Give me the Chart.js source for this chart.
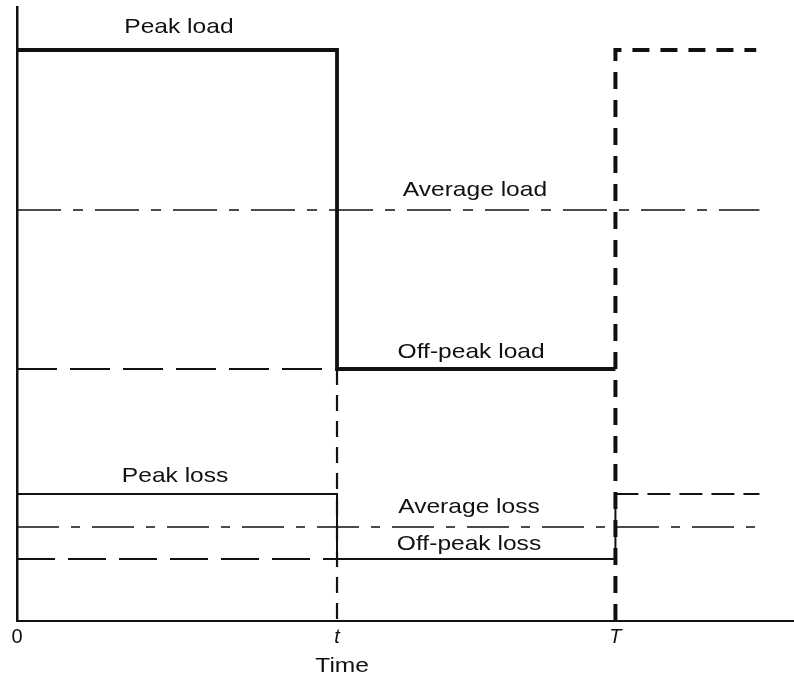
<!DOCTYPE html>
<html>
<head>
<meta charset="utf-8">
<script src="https://cdn.jsdelivr.net/npm/chart.js@4.4.1/dist/chart.umd.min.js"></script>
<style>
  html, body { margin: 0; padding: 0; background: #fff; }
  #wrap { position: relative; width: 794px; height: 678px; }
</style>
</head>
<body>
<div id="wrap"><canvas id="c"></canvas></div>
<script>
// time marks: 0, t (end of peak), T (end of cycle)
const T_PEAK = 1.0;
const T_CYCLE = 1.87;
const T_END = 2.31;
const X_MAX = 2.428;
const Y_MAX = 6.14;

// levels (arbitrary units)
const peakLoad = 5.71;
const avgLoad = 4.11;
const offPeakLoad = 2.52;
const peakLoss = 1.27;
const avgLoss = 0.94;
const offPeakLoss = 0.62;

const tickValues = [0, T_PEAK, T_CYCLE];
const tickLabels = ['0', 't', 'T'];
const tickItalic = [false, true, true];

// text annotations, anchored in data units
const labelText = ['Peak load', 'Average load', 'Off-peak load', 'Peak loss', 'Average loss', 'Off-peak loss', 'Time'];
const labelX = [0.506, 1.431, 1.419, 0.494, 1.4125, 1.4125, 1.016];
const labelY = [5.88, 4.25, 2.63, 1.39, 1.08, 0.71, -0.51];

const INK = '#111';
const FONT = '"Liberation Sans", Arial, sans-serif';

function seg(points, width, dash) {
  return {
    data: points.map(p => ({ x: p[0], y: p[1] })),
    showLine: true,
    borderColor: INK,
    borderWidth: width,
    borderDash: dash || [],
    pointRadius: 0,
    fill: false,
    tension: 0
  };
}

const datasets = [
  // guide line down from t
  seg([[T_PEAK, offPeakLoad], [T_PEAK, 0]], 2.2, [16, 10]),
  // next cycle (dashed thick)
  seg([[T_CYCLE, 0], [T_CYCLE, peakLoad], [T_END, peakLoad]], 4, [17, 11]),
  // average load
  seg([[0, avgLoad], [T_END + 0.01, avgLoad]], 1.6, [44, 12, 10, 12]),
  // off-peak load extension to the left
  seg([[0, offPeakLoad], [T_PEAK, offPeakLoad]], 2, [40, 13]),
  // load curve
  seg([[0, peakLoad], [T_PEAK, peakLoad], [T_PEAK, offPeakLoad], [T_CYCLE, offPeakLoad]], 3.8),
  // average loss
  seg([[0, avgLoss], [T_END + 0.01, avgLoss]], 1.6, [42, 12, 9, 12]),
  // off-peak loss extension
  seg([[0, offPeakLoss], [T_PEAK, offPeakLoss]], 2, [38, 13]),
  // loss next cycle
  seg([[T_CYCLE, peakLoss], [T_END + 0.01, peakLoss]], 2, [23, 9]),
  // loss curve
  seg([[0, peakLoss], [T_PEAK, peakLoss], [T_PEAK, offPeakLoss], [T_CYCLE, offPeakLoss], [T_CYCLE, peakLoss]], 2)
];

const textPlugin = {
  id: 'textLabels',
  afterDraw(chart) {
    const ctx = chart.ctx;
    const xs = chart.scales.x, ys = chart.scales.y;
    ctx.save();
    ctx.fillStyle = INK;
    ctx.textAlign = 'center';
    ctx.textBaseline = 'alphabetic';
    ctx.font = '21px ' + FONT;
    labelText.forEach((txt, i) => {
      const px = xs.getPixelForValue(labelX[i]);
      const py = ys.getPixelForValue(labelY[i]);
      ctx.save();
      ctx.translate(px, py);
      ctx.scale(1.17, 1);
      ctx.fillText(txt, 0, 0);
      ctx.restore();
    });
    // x tick labels (0, t, T) under the axis
    tickValues.forEach((v, i) => {
      ctx.font = (tickItalic[i] ? 'italic ' : '') + '20px ' + FONT;
      ctx.fillText(tickLabels[i], xs.getPixelForValue(v), xs.top + 22);
    });
    ctx.restore();
  }
};

new Chart(document.getElementById('c'), {
  type: 'scatter',
  data: { datasets },
  options: {
    responsive: true,
    maintainAspectRatio: false,
    animation: false,
    layout: { padding: { left: 0, top: 7, right: 0, bottom: 0 } },
    plugins: { legend: { display: false }, tooltip: { enabled: false } },
    scales: {
      x: {
        type: 'linear',
        min: 0,
        max: X_MAX,
        afterBuildTicks: s => { s.ticks = tickValues.map(v => ({ value: v })); },
        afterFit: s => { s.height = 57; },
        grid: { display: false, drawTicks: false },
        border: { display: true, color: INK, width: 2 },
        ticks: { display: false }
      },
      y: {
        type: 'linear',
        min: 0,
        max: Y_MAX,
        afterFit: s => { s.width = 17; },
        grid: { display: false, drawTicks: false },
        border: { display: true, color: INK, width: 2.5 },
        ticks: { display: false }
      }
    }
  },
  plugins: [textPlugin]
});
</script>
</body>
</html>
